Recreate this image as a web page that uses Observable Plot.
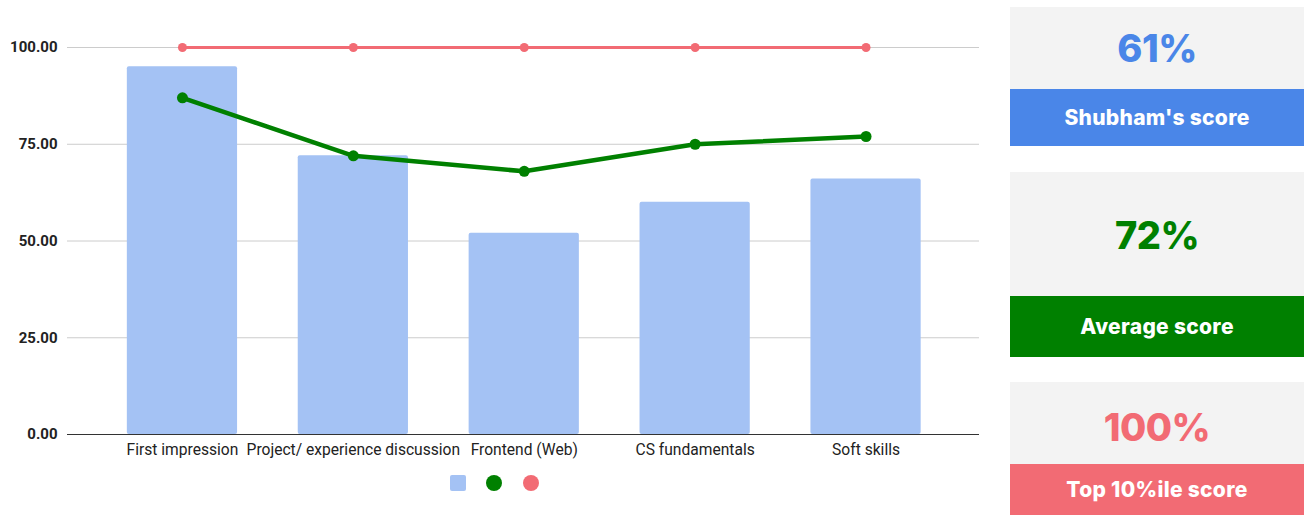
<!DOCTYPE html>
<html>
<head>
<meta charset="utf-8">
<script src="https://cdn.jsdelivr.net/npm/d3@7"></script>
<script src="https://cdn.jsdelivr.net/npm/@observablehq/plot@0.6"></script>
<style>
  body { margin: 0; background: #fff; font-family: Roboto, sans-serif; }
  #wrap { position: relative; width: 1307px; height: 515px; overflow: hidden; }
  #chart { position: absolute; left: 0; top: 0; }
  .legend { position: absolute; top: 475px; }
  .sq { left: 450px; width: 16px; height: 16px; background: #a4c2f4; border-radius: 2px; }
  .dot { width: 16px; height: 16px; border-radius: 50%; }
  .card { position: absolute; left: 1010px; width: 294px; background: #f3f3f3; font-family: Inter, "Open Sans", sans-serif; font-weight: 800; }
  .card .num { position: absolute; left: 0; right: 0; text-align: center; font-size: 38px; letter-spacing: -0.5px; }
  .card .lab { position: absolute; left: 0; right: 0; bottom: 0; display: flex; align-items: center; justify-content: center; color: #fff; font-size: 21px; font-weight: 800; letter-spacing: 0.3px; }
</style>
</head>
<body>
<div id="wrap">
  <div id="chart"></div>
  <div class="legend sq"></div>
  <div class="legend dot" style="left:486px;background:#008000"></div>
  <div class="legend dot" style="left:523px;background:#f26b74"></div>
  <div id="cards"></div>
</div>
<script>
const categories = ["First impression", "Project/ experience discussion", "Frontend (Web)", "CS fundamentals", "Soft skills"];
const shubham = [95, 72, 52, 60, 66];
const average = [87, 72, 68, 75, 77];
const top10 = [100, 100, 100, 100, 100];
const yTicks = [0, 25, 50, 75, 100];

const cardNames = ["Shubham's score", "Average score", "Top 10%ile score"];
const cardValues = ["61%", "72%", "100%"];
const cardColors = ["#4a86e8", "#008000", "#f26b74"];

const rows = categories.map((c, i) => ({cat: c, s: shubham[i], a: average[i], t: top10[i]}));

const chart = Plot.plot({
  width: 990,
  height: 515,
  marginLeft: 67,
  marginRight: 11,
  marginTop: 47,
  marginBottom: 81,
  style: {fontFamily: "Roboto, sans-serif", fontSize: "15px", color: "#222"},
  x: {domain: categories, paddingInner: 0.355, paddingOuter: 0.1775, insetLeft: 29.5, insetRight: 28, round: false, label: null},
  y: {domain: [0, 100], ticks: yTicks, tickFormat: d3.format(".2f"), label: null},
  marks: [
    Plot.ruleY(yTicks.filter(d => d > 0), {stroke: "#cccccc", strokeWidth: 1}),
    Plot.barY(rows, {x: "cat", y: "s", fill: "#a4c2f4", rx: 2}),
    Plot.ruleY([0], {stroke: "#333", strokeWidth: 1.2}),
    Plot.line(rows, {x: "cat", y: "t", stroke: "#f26b74", strokeWidth: 3}),
    Plot.dot(rows, {x: "cat", y: "t", fill: "#f26b74", r: 4.5}),
    Plot.line(rows, {x: "cat", y: "a", stroke: "#008000", strokeWidth: 4.5}),
    Plot.dot(rows, {x: "cat", y: "a", fill: "#008000", r: 5.5}),
    Plot.axisY({ticks: yTicks, tickFormat: d3.format(".2f"), tickSize: 0, tickPadding: 10, fontWeight: "bold", fontSize: 15, fill: "#222", label: null}),
    Plot.axisX({tickSize: 0, tickPadding: 9, fontSize: 15.6, fill: "#222", label: null})
  ]
});
document.getElementById("chart").appendChild(chart);

// cards: [top, numberCenter, bandTop, bottom]
const cardGeom = [[7, 48, 89, 146], [172, 235, 296, 357], [382, 427, 464, 515]];
const cards = document.getElementById("cards");
cardGeom.forEach((g, i) => {
  const [top, numC, bandTop, bottom] = g;
  const card = document.createElement("div");
  card.className = "card";
  card.style.top = top + "px";
  card.style.height = (bottom - top) + "px";
  const num = document.createElement("div");
  num.className = "num";
  num.textContent = cardValues[i];
  num.style.color = cardColors[i];
  num.style.top = (numC - top - 24) + "px";
  num.style.lineHeight = "48px";
  const lab = document.createElement("div");
  lab.className = "lab";
  lab.textContent = cardNames[i];
  lab.style.background = cardColors[i];
  lab.style.height = (bottom - bandTop) + "px";
  card.appendChild(num);
  card.appendChild(lab);
  cards.appendChild(card);
});
</script>
</body>
</html>
